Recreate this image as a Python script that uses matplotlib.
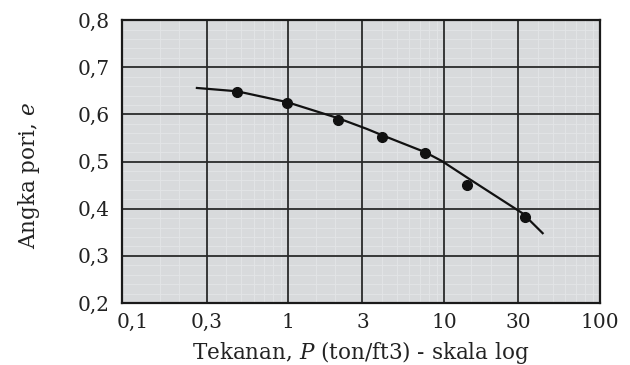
import matplotlib
matplotlib.use('Agg')
import matplotlib.pyplot as plt
from matplotlib.ticker import FixedLocator, FixedFormatter, NullFormatter

# measured points (pressure, void ratio)
tekanan = [0.47, 0.985, 2.09, 4.0, 7.55, 14.0, 33.0]
angka_pori = [0.647, 0.624, 0.588, 0.552, 0.518, 0.450, 0.382]

# fitted curve
kurva_x = [0.26, 0.47, 0.985, 2.09, 3.21, 4.0, 7.55, 9.7, 14.7, 32.0, 43.0]
kurva_y = [0.656, 0.649, 0.626, 0.592, 0.569, 0.556, 0.520, 0.501, 0.462, 0.390, 0.348]

x_ticks = [0.1, 0.3, 1, 3, 10, 30, 100]
x_labels = ['0,1', '0,3', '1', '3', '10', '30', '100']
y_ticks = [0.2, 0.3, 0.4, 0.5, 0.6, 0.7, 0.8]
y_labels = ['0,2', '0,3', '0,4', '0,5', '0,6', '0,7', '0,8']

plt.rcParams['font.family'] = ['DejaVu Serif']
plt.rcParams['mathtext.fontset'] = 'dejavuserif'

fig = plt.figure(figsize=(6.3, 3.65), dpi=100)
ax = fig.add_axes([0.1937, 0.170, 0.7583, 0.775])
ax.set_facecolor('#d8dadc')

ax.set_xscale('log')
ax.set_xlim(0.086, 100)
ax.set_ylim(0.2, 0.8)

# faint graph-paper lines
minor_x = [v * m for v in [0.1, 1, 10] for m in [1.5, 2, 4, 5, 6, 7, 8, 9]]
minor_y = [0.2 + i * 0.02 for i in range(31)]
for v in minor_x:
    ax.axvline(v, color='#e3e5e7', lw=0.6, zorder=0)
for v in minor_y:
    ax.axhline(v, color='#e3e5e7', lw=0.6, zorder=0)

ax.xaxis.set_major_locator(FixedLocator(x_ticks))
ax.xaxis.set_major_formatter(FixedFormatter(x_labels))
ax.xaxis.set_minor_locator(FixedLocator([]))
ax.xaxis.set_minor_formatter(NullFormatter())
ax.set_yticks(y_ticks)
ax.set_yticklabels(y_labels)

ax.grid(True, which='major', color='#2a2a2a', lw=1.3, zorder=1)
ax.xaxis.get_gridlines()[0].set_visible(False)
ax.set_axisbelow(True)

ax.tick_params(length=0, labelsize=14.5, labelcolor='#222222')
ax.tick_params(axis='x', pad=7)
ax.tick_params(axis='y', pad=9)

for s in ax.spines.values():
    s.set_color('#1a1a1a')
    s.set_linewidth(1.6)

ax.plot(kurva_x, kurva_y, color='#111111', lw=1.6, zorder=3)
ax.plot(tekanan, angka_pori, 'o', color='#111111', ms=7, zorder=4)

ax.set_xlabel('Tekanan, $\\it{P}$ (ton/ft3) - skala log', fontsize=15.5, color='#222222', labelpad=5)
ax.set_ylabel('Angka pori, $\\it{e}$', fontsize=15.5, color='#222222')
ax.yaxis.set_label_coords(-0.168, 0.452)

fig.savefig('out.png', dpi=100, facecolor='white')
